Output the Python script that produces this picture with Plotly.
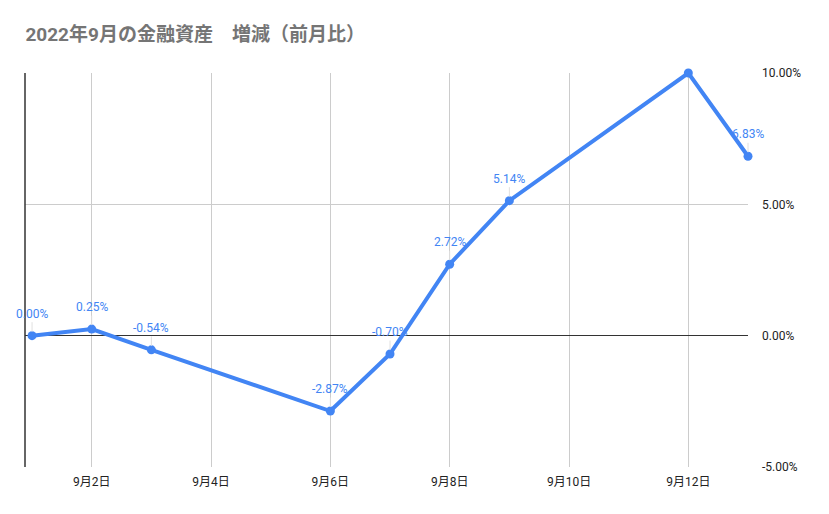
import plotly.graph_objects as go

dates = ["2022-09-01", "2022-09-02", "2022-09-03", "2022-09-06", "2022-09-07",
         "2022-09-08", "2022-09-09", "2022-09-12", "2022-09-13"]
values = [0.0, 0.25, -0.54, -2.87, -0.70, 2.72, 5.14, 10.00, 6.83]
labels = ["0.00%", "0.25%", "-0.54%", "-2.87%", "-0.70%", "2.72%", "5.14%", "", "6.83%"]
tick_dates = ["2022-09-02", "2022-09-04", "2022-09-06", "2022-09-08", "2022-09-10", "2022-09-12"]
tick_text = ["9月2日", "9月4日", "9月6日", "9月8日", "9月10日", "9月12日"]
y_ticks = [-5, 0, 5, 10]
y_text = ["-5.00%", "0.00%", "5.00%", "10.00%"]

blue = "#4285F4"
fnt = "Roboto, 'Noto Sans CJK JP', sans-serif"

fig = go.Figure()
fig.add_trace(go.Scatter(
    x=dates, y=values, mode="lines+markers",
    line=dict(color=blue, width=4),
    marker=dict(color=blue, size=9),
    cliponaxis=False, showlegend=False,
))

annotations = []
for d, v, t in zip(dates, values, labels):
    if not t:
        continue
    annotations.append(dict(
        x=d, y=v, xref="x", yref="y", text=t,
        showarrow=True, arrowhead=0, arrowwidth=1, arrowcolor="#e0e0e0",
        ax=0, ay=-22, standoff=4,
        font=dict(color=blue, size=12, family=fnt),
        bgcolor="rgba(0,0,0,0)",
    ))

fig.update_layout(
    width=829, height=514,
    margin=dict(l=17, r=89, t=65, b=55),
    paper_bgcolor="white", plot_bgcolor="white",
    font=dict(family=fnt, color="#222"),
    title=dict(text="<b>2022年9月の金融資産　増減（前月比）</b>",
               x=0.021, xanchor="left", y=0.948, yanchor="middle",
               font=dict(size=19, color="#757575", family="Roboto, 'Noto Sans CJK JP'")),
    xaxis=dict(
        type="date", range=["2022-08-31 21:10", "2022-09-13 00:00"],
        tickvals=tick_dates, ticktext=tick_text,
        showgrid=True, gridcolor="#cccccc", gridwidth=1,
        showline=False, zeroline=False, ticks="", ticklabelstandoff=6,
        tickfont=dict(size=12, color="#222"),
    ),
    yaxis=dict(
        side="right", range=[-5, 10],
        tickvals=y_ticks, ticktext=y_text,
        showgrid=True, gridcolor="#cccccc", gridwidth=1,
        zeroline=True, zerolinecolor="#333333", zerolinewidth=1,
        showline=False, ticks="", ticklabelstandoff=13,
        tickfont=dict(size=12, color="#222"),
    ),
    annotations=annotations,
    shapes=[dict(type="line", xref="paper", yref="paper", x0=0, x1=0, y0=0, y1=1,
                 line=dict(color="#333333", width=1.5))],
)

fig.write_html("out.html")
